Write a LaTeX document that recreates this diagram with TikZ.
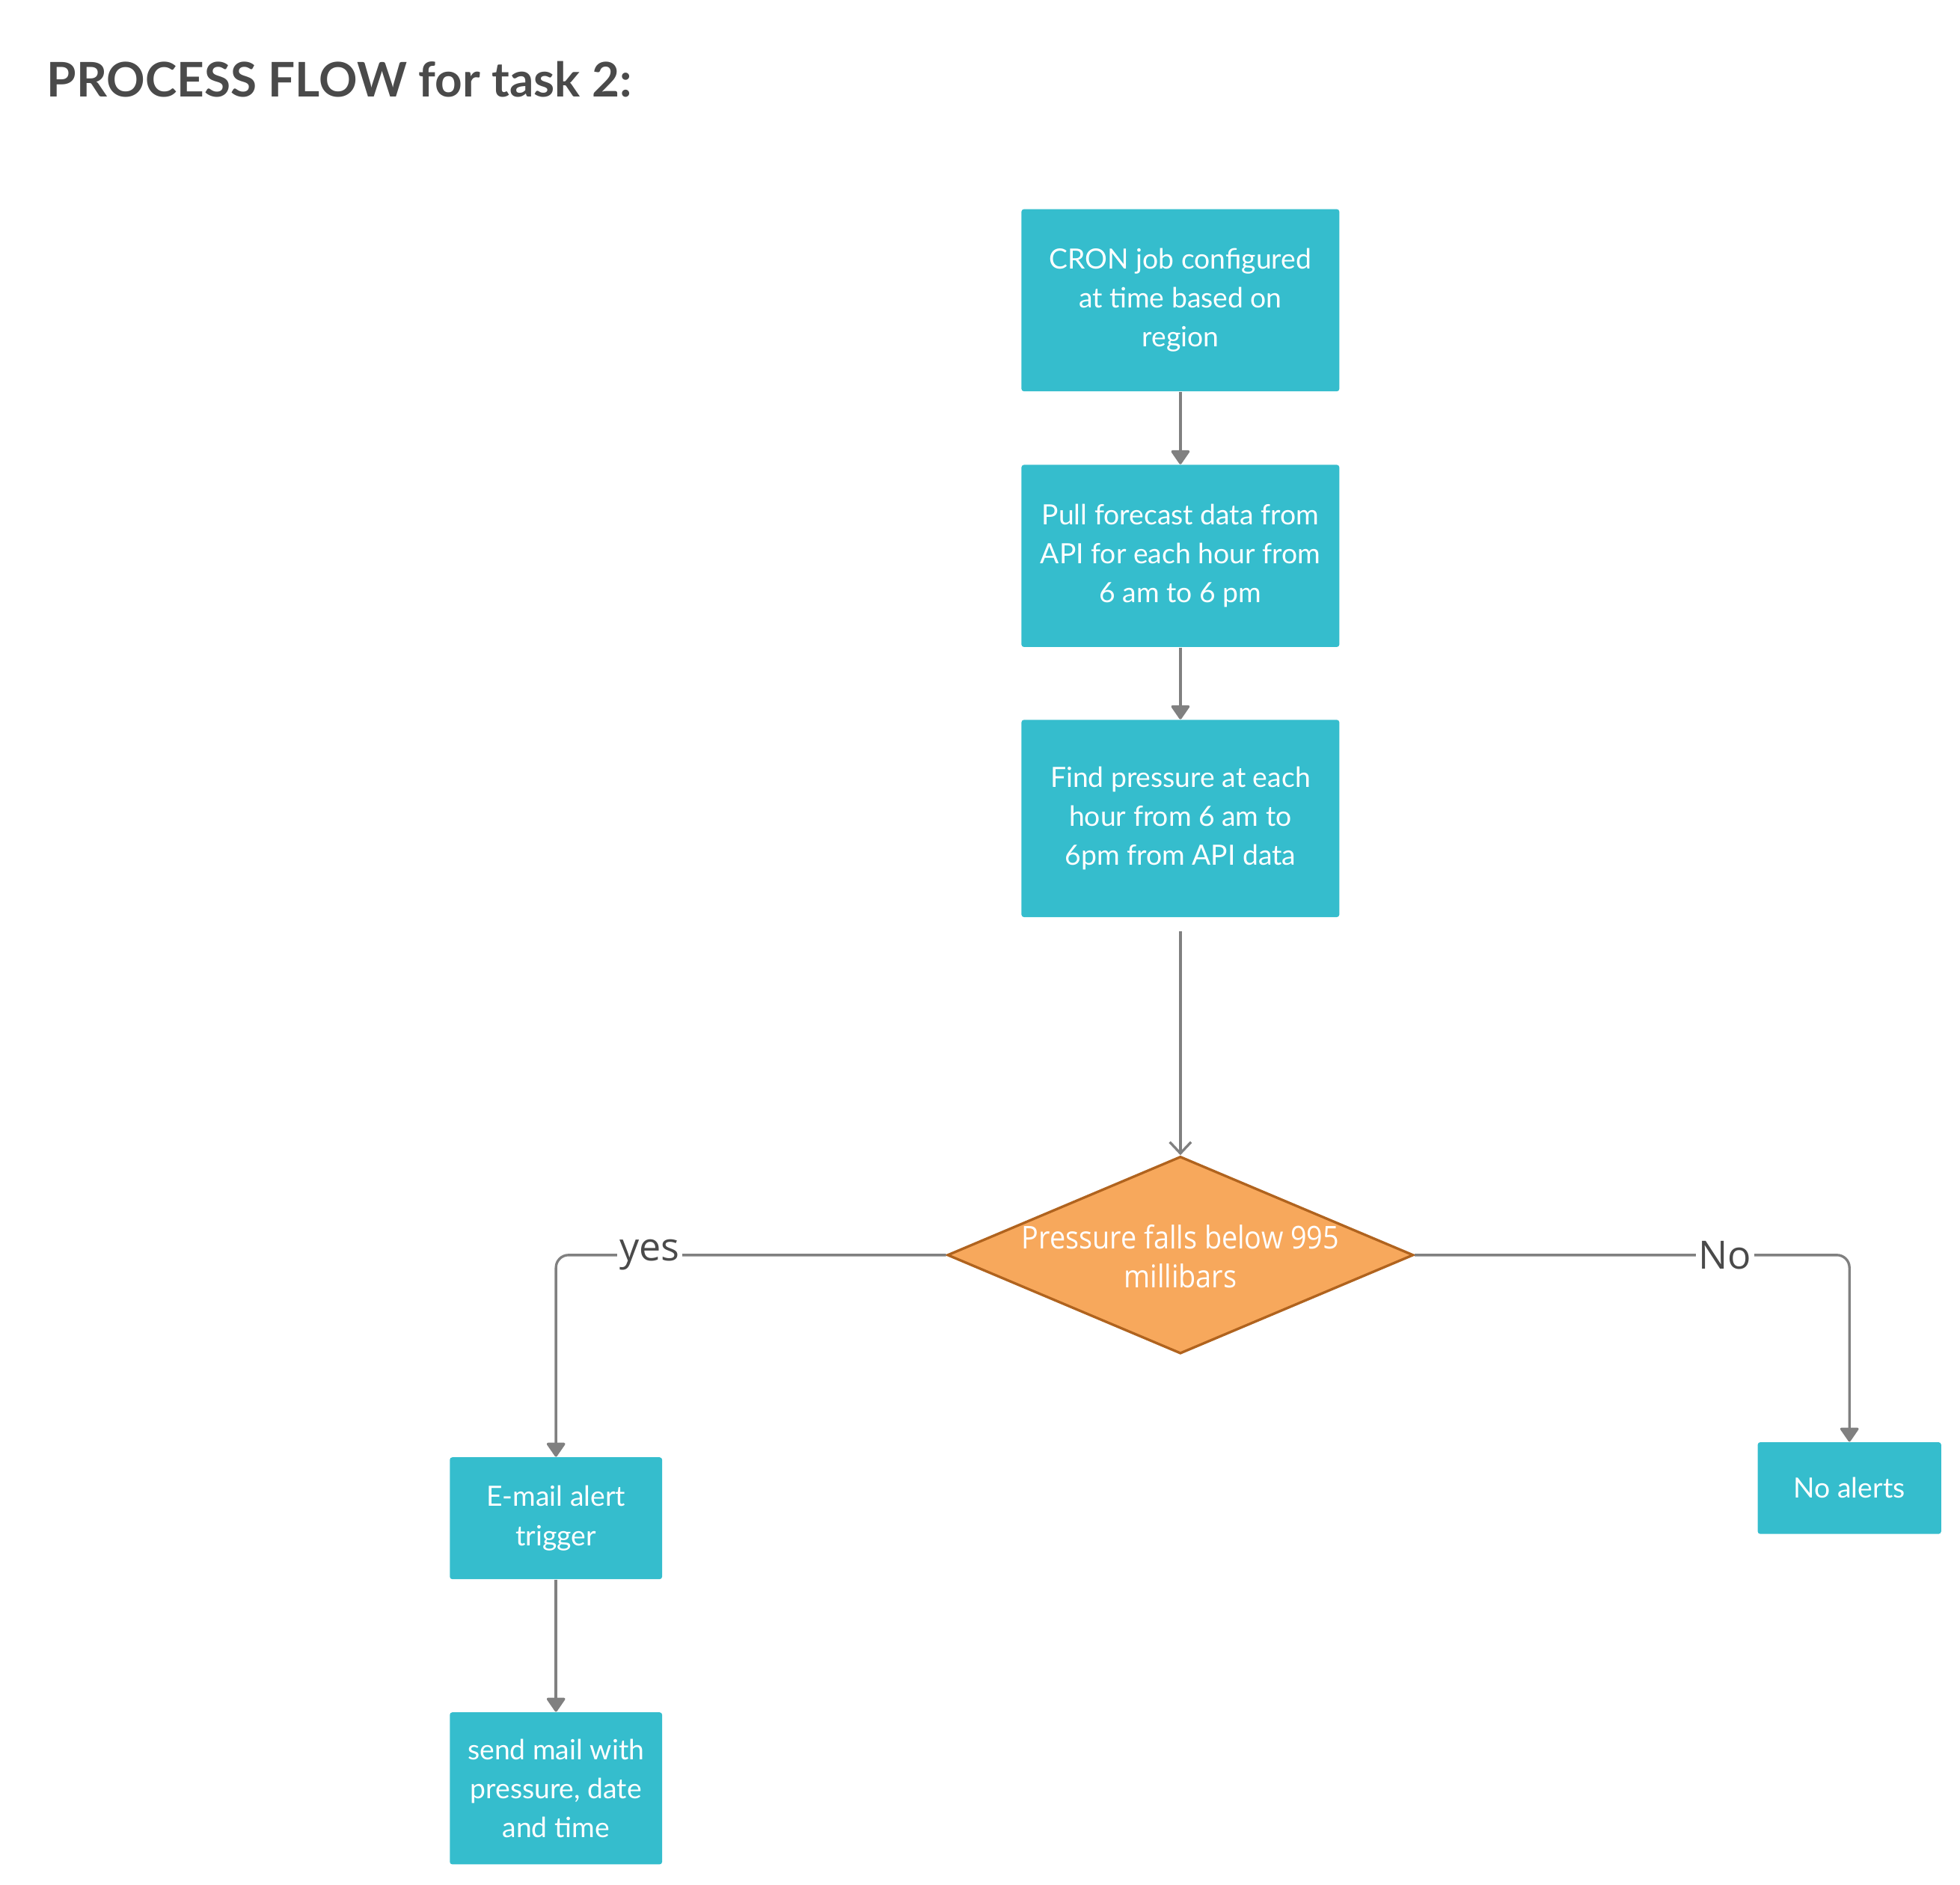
\documentclass[tikz,border=0pt]{standalone}
\usepackage{fontspec}
\setmainfont{Lato}
\newfontfamily\osans{Open Sans}
\newfontfamily\osanscond[FakeStretch=0.9]{Open Sans}
\usetikzlibrary{shapes.geometric,arrows.meta,calc}
\definecolor{boxteal}{HTML}{35BDCD}
\definecolor{diafill}{HTML}{F7A85C}
\definecolor{diadraw}{HTML}{B0631E}
\definecolor{linegray}{HTML}{808080}
\definecolor{titlegray}{HTML}{4A4A4A}
\tikzset{
  proc/.style={rectangle, fill=boxteal, text=white, inner sep=0pt, align=center,
    rounded corners=1pt, font=\fontsize{11.1}{15.5}\selectfont},
  conn/.style={draw=linegray, line width=1pt, rounded corners=5pt,
    -{Triangle[length=6pt,width=8pt,round]}},
  openconn/.style={draw=linegray, line width=1pt,
    -{Straight Barb[length=4.5pt,width=8.5pt]}},
  lbl/.style={fill=white, text=titlegray, inner sep=1pt,
    font=\osans\fontsize{15.5}{18}\selectfont},
}
\begin{document}
\begin{tikzpicture}[x=0.5pt,y=-0.5pt]
\useasboundingbox (0,0) rectangle (1560,1500);

\node[anchor=base west, text=titlegray, inner sep=0pt,
  font=\bfseries\fontsize{19}{23}\selectfont] (title) at (37,77) {PROCESS FLOW for task 2:};

\node[proc, minimum width=126.5pt, minimum height=72.5pt] (cron) at (939.5,239)
  {CRON job configured\\at time based on\\region};
\node[proc, minimum width=126.5pt, minimum height=72.5pt] (pull) at (939.5,442.5)
  {Pull forecast data from\\API for each hour from\\6 am to 6 pm};
\node[proc, minimum width=126.5pt, minimum height=78.5pt] (find) at (939.5,651.5)
  {Find pressure at each\\hour from 6 am to\\6pm from API data};

\node[diamond, draw=diadraw, fill=diafill, line width=1pt, inner sep=0pt,
  minimum width=185.5pt, minimum height=78.5pt] (dia) at (939.5,999) {};
\node[text=white, align=center, inner sep=0pt,
  font=\osanscond\fontsize{12.5}{15.5}\selectfont] (diatext) at (939.5,1000)
  {Pressure falls below 995\\millibars};

\node[proc, minimum width=84.5pt, minimum height=48.5pt] (email) at (442.5,1208.5)
  {E-mail alert\\trigger};
\node[proc, minimum width=84.5pt, minimum height=60.5pt] (send) at (442.5,1423.5)
  {send mail with\\pressure, date\\and time};
\node[proc, minimum width=73pt, minimum height=36.5pt] (noal) at (1472,1184.5)
  {No alerts};

\coordinate (findout) at ($(find.south)+(0,11)$);

\draw[conn] (cron.south) -- (pull.north);
\draw[conn] (pull.south) -- (find.north);
\draw[openconn] (findout) -- (dia.north);
\draw[conn] (dia.west) -| (email.north);
\draw[conn] (dia.east) -| (noal.north);
\draw[conn] (email.south) -- (send.north);

\node[lbl] (yes) at (517,999) {yes};
\node[lbl] (no) at (1373,999) {No};
\end{tikzpicture}
\end{document}
